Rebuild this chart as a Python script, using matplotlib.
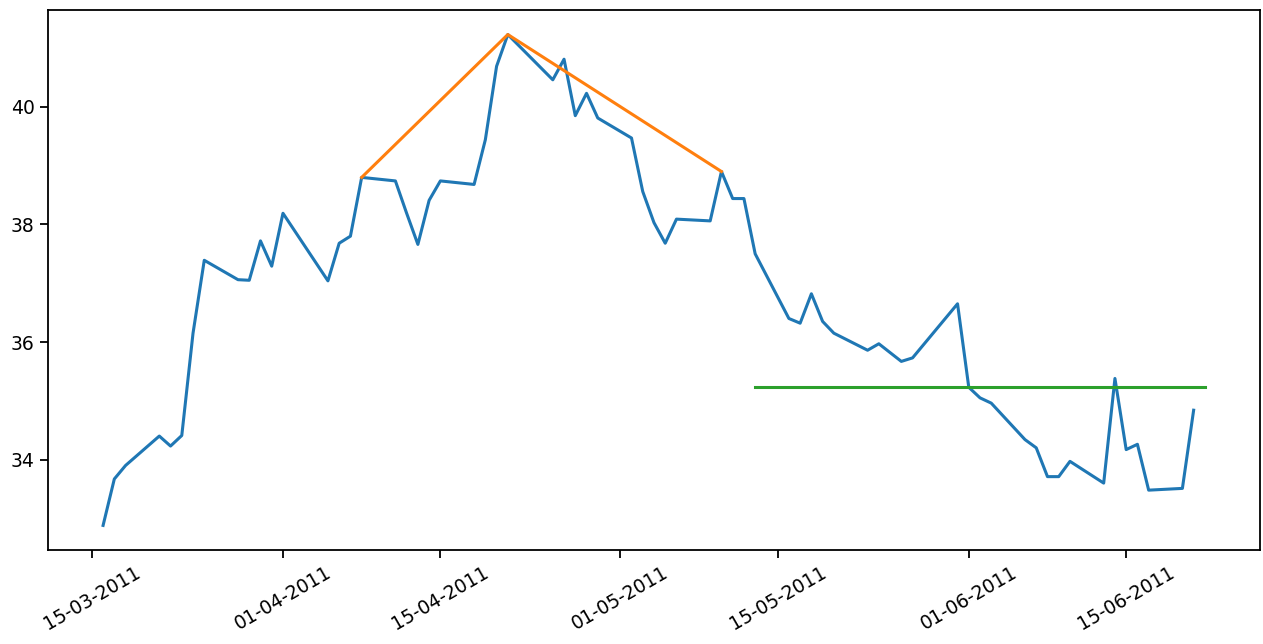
import matplotlib
matplotlib.use("Agg")
import matplotlib.pyplot as plt
import matplotlib.dates as mdates
import pandas as pd

dates = ["2011-03-16", "2011-03-17", "2011-03-18", "2011-03-21", "2011-03-22", "2011-03-23",
         "2011-03-24", "2011-03-25", "2011-03-28", "2011-03-29", "2011-03-30", "2011-03-31",
         "2011-04-01", "2011-04-05", "2011-04-06", "2011-04-07", "2011-04-08", "2011-04-11",
         "2011-04-12", "2011-04-13", "2011-04-14", "2011-04-15", "2011-04-18", "2011-04-19",
         "2011-04-20", "2011-04-21", "2011-04-25", "2011-04-26", "2011-04-27", "2011-04-28",
         "2011-04-29", "2011-05-02", "2011-05-03", "2011-05-04", "2011-05-05", "2011-05-06",
         "2011-05-09", "2011-05-10", "2011-05-11", "2011-05-12", "2011-05-13", "2011-05-16",
         "2011-05-17", "2011-05-18", "2011-05-19", "2011-05-20", "2011-05-23", "2011-05-24",
         "2011-05-26", "2011-05-27", "2011-05-31", "2011-06-01", "2011-06-02", "2011-06-03",
         "2011-06-06", "2011-06-07", "2011-06-08", "2011-06-09", "2011-06-10", "2011-06-13",
         "2011-06-14", "2011-06-15", "2011-06-16", "2011-06-17", "2011-06-20", "2011-06-21"]
prices = [32.88, 33.67, 33.90, 34.40, 34.23, 34.41,
          36.15, 37.39, 37.06, 37.05, 37.72, 37.29,
          38.19, 37.04, 37.68, 37.80, 38.80, 38.74,
          38.19, 37.66, 38.41, 38.74, 38.68, 39.44,
          40.69, 41.23, 40.46, 40.81, 39.85, 40.23,
          39.81, 39.47, 38.56, 38.03, 37.68, 38.09,
          38.06, 38.90, 38.44, 38.44, 37.50, 36.40,
          36.32, 36.82, 36.35, 36.15, 35.86, 35.97,
          35.67, 35.73, 36.65, 35.23, 35.05, 34.96,
          34.34, 34.20, 33.71, 33.71, 33.97, 33.60,
          35.38, 34.17, 34.26, 33.48, 33.51, 34.84]

trend_dates = ["2011-04-08", "2011-04-21", "2011-05-10"]
trend_values = [38.80, 41.23, 38.90]

level_dates = ["2011-05-13", "2011-06-22"]
level_values = [35.23, 35.23]

tick_dates = ["2011-03-15", "2011-04-01", "2011-04-15", "2011-05-01",
              "2011-05-15", "2011-06-01", "2011-06-15"]
y_ticks = [34, 36, 38, 40]

fig = plt.figure(figsize=(12.63, 6.44), dpi=100)
ax = fig.add_axes([0.038, 0.146, 0.9596, 0.8385])

ax.plot(pd.to_datetime(dates), prices, color="#1f77b4", linewidth=2.2)
ax.plot(pd.to_datetime(trend_dates), trend_values, color="#ff7f0e", linewidth=2.2)
ax.plot(pd.to_datetime(level_dates), level_values, color="#2ca02c", linewidth=2.2)

ax.set_yticks(y_ticks)
ax.set_xticks(pd.to_datetime(tick_dates))
ax.xaxis.set_major_formatter(mdates.DateFormatter("%d-%m-%Y"))
for lbl in ax.get_xticklabels():
    lbl.set_rotation(30)
    lbl.set_ha("center")
ax.tick_params(labelsize=13.5, length=6, width=1.3)
for s in ax.spines.values():
    s.set_linewidth(1.3)

fig.savefig("out.png", dpi=100)
